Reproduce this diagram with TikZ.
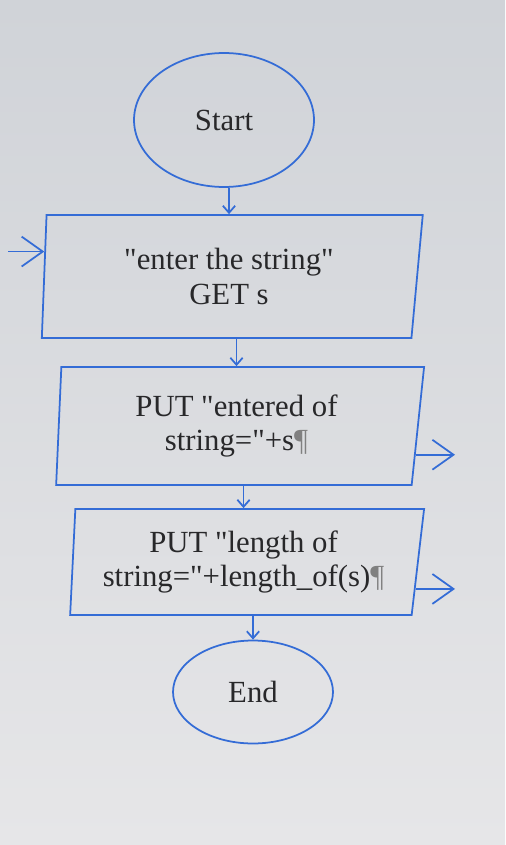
\documentclass[tikz,border=0pt]{standalone}
\usepackage{fontspec}
\setmainfont{Liberation Serif}[Ligatures=TeXOff]
\usetikzlibrary{shapes.geometric,arrows.meta,calc}
\definecolor{flowblue}{RGB}{52,108,214}
\definecolor{inktext}{RGB}{40,40,42}
\definecolor{papertop}{RGB}{208,211,216}
\definecolor{paperbot}{RGB}{230,230,232}
\tikzset{
  terminal/.style={ellipse,draw=flowblue,line width=1pt,text=inktext,font=\fontsize{17.5}{19.5}\selectfont},
  iobox/.style={trapezium,trapezium left angle=86,trapezium right angle=99.5,trapezium stretches body,
    draw=flowblue,line width=1pt,text=inktext,align=center,font=\fontsize{17.5}{19.5}\selectfont},
  flow/.style={draw=flowblue,line width=1pt,-{Straight Barb[length=4pt,width=7pt]}},
  sideflow/.style={draw=flowblue,line width=1pt,-{Straight Barb[length=12pt,width=17pt]}},
}
\begin{document}
\begin{tikzpicture}[x=0.02cm,y=-0.02cm]
\fill[top color=papertop,bottom color=paperbot] (0,0) rectangle (505,845);
\useasboundingbox (0,0) rectangle (505,845);

\node[terminal,minimum width=3.6cm,minimum height=2.68cm] (start) at (224,120) {Start};
    \node[iobox,minimum width=7.62cm,minimum height=2.46cm] (get) at (229,276.5) {"enter the string"\\GET s};
    \node[iobox,minimum width=7.36cm,minimum height=2.36cm] (putS) at (236.5,426) {PUT "entered of\\string="+s{\color{gray}¶}};
    \node[iobox,minimum width=7.08cm,minimum height=2.12cm] (putLen) at (243.5,562) {PUT "length of\\string="+length\_of(s){\color{gray}¶}};
\node[terminal,minimum width=3.2cm,minimum height=2.06cm] (end) at (253,692) {End};

    \coordinate (inlet) at (8,0);
    \coordinate (outx) at (455,0);
    \coordinate (getIn) at ($(get.bottom left corner)!0.7!(get.top left corner)$);
    \coordinate (putSOut) at ($(putS.bottom right corner)!0.26!(putS.top right corner)$);
    \coordinate (putLenOut) at ($(putLen.bottom right corner)!0.25!(putLen.top right corner)$);

    \path (get.north |- start.south) edge[flow] (get.north);
    \path (putS.north |- get.south) edge[flow] (putS.north);
    \path (putLen.north |- putS.south) edge[flow] (putLen.north);
    \path (end.north |- putLen.south) edge[flow] (end.north);
    \path (inlet |- getIn) edge[sideflow] (getIn);
    \path (putSOut) edge[sideflow] (putSOut -| outx);
    \path (putLenOut) edge[sideflow] (putLenOut -| outx);
\end{tikzpicture}
\end{document}
